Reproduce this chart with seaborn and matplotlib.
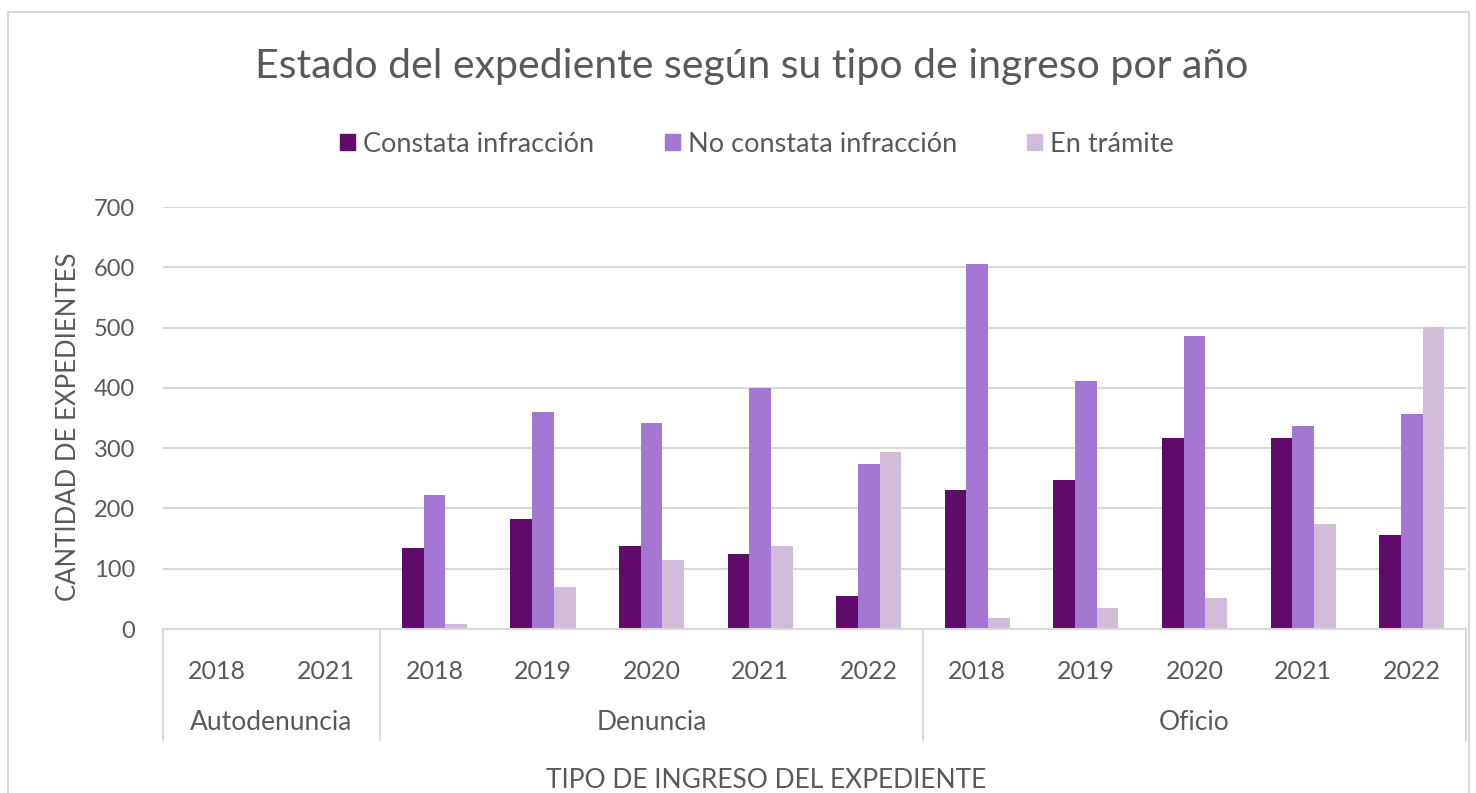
import matplotlib
matplotlib.use("Agg")
import matplotlib.pyplot as plt
import matplotlib.transforms as mtransforms
from matplotlib.patches import Rectangle
import pandas as pd
import seaborn as sns

# datos
tipos = ["Autodenuncia", "Autodenuncia",
         "Denuncia", "Denuncia", "Denuncia", "Denuncia", "Denuncia",
         "Oficio", "Oficio", "Oficio", "Oficio", "Oficio"]
anios = ["2018", "2021",
         "2018", "2019", "2020", "2021", "2022",
         "2018", "2019", "2020", "2021", "2022"]
constata = [0, 0, 134, 183, 138, 125, 55, 230, 247, 317, 317, 156]
no_constata = [0, 0, 222, 360, 341, 400, 273, 606, 412, 486, 337, 356]
en_tramite = [0, 0, 8, 70, 114, 138, 293, 19, 35, 51, 175, 501]

series = ["Constata infracción", "No constata infracción", "En trámite"]
colores = ["#600A6B", "#A377D2", "#D1BCD9"]
grupos = ["Autodenuncia", "Denuncia", "Oficio"]

df = pd.DataFrame({
    "cat": [f"{t}|{a}" for t, a in zip(tipos, anios)],
    series[0]: constata,
    series[1]: no_constata,
    series[2]: en_tramite,
})
largo = df.melt(id_vars="cat", var_name="estado", value_name="n")

sns.set_style("white")
plt.rcParams["font.family"] = ["Lato", "DejaVu Sans"]
gris = "#595959"

fig = plt.figure(figsize=(14.76, 7.93), dpi=100)
ax = fig.add_axes([0.1104, 0.2068, 0.8828, 0.532])

sns.barplot(data=largo, x="cat", y="n", hue="estado", hue_order=series,
            palette=colores, width=0.6, gap=0, saturation=1,
            linewidth=0, ax=ax, legend=False)

ax.set_ylim(0, 700)
ax.set_xlim(-0.5, len(tipos) - 0.5)
ax.set_yticks(range(0, 701, 100))
ax.yaxis.grid(True, color="#D9D9D9", lw=1.5)
ax.set_axisbelow(True)
for s in ["top", "right", "left"]:
    ax.spines[s].set_visible(False)
ax.spines["bottom"].set_color("#D9D9D9")
ax.spines["bottom"].set_linewidth(1.5)

ax.set_xticks(range(len(anios)))
ax.set_xticklabels(anios)
ax.tick_params(axis="both", length=0, labelcolor=gris)
ax.tick_params(axis="x", pad=22, labelsize=18)
ax.tick_params(axis="y", pad=20, labelsize=17)
ax.set_xlabel("")
ax.set_ylabel("CANTIDAD DE EXPEDIENTES", fontsize=18.5, color=gris)
ax.yaxis.set_label_coords(-0.063, 0.48)

# separadores y nombres de grupo
trans = mtransforms.blended_transform_factory(ax.transData, ax.transAxes)
bordes = [-0.5]
pos = 0
for g in grupos:
    k = tipos.count(g)
    ax.text(pos + (k - 1) / 2, -0.222, g, transform=trans, ha="center",
            va="center", fontsize=19, color=gris)
    pos += k
    bordes.append(pos - 0.5)
for b in bordes:
    ax.plot([b, b], [0, -0.263], transform=trans, color="#D9D9D9",
            lw=1.5, clip_on=False)

fig.text(0.519, 0.016, "TIPO DE INGRESO DEL EXPEDIENTE", ha="center",
         va="center", fontsize=19, color=gris)

fig.suptitle("Estado del expediente según su tipo de ingreso por año",
             x=0.509, y=0.94, fontsize=29.5, color=gris)

handles = [Rectangle((0, 0), 1, 1, color=c) for c in colores]
fig.legend(handles, series, loc="center", bbox_to_anchor=(0.513, 0.818),
           ncol=3, frameon=False, fontsize=19.5, labelcolor=gris,
           handlelength=0.55, handleheight=0.55, handletextpad=0.3,
           columnspacing=2.6)

# marco del grafico
fig.patches.append(Rectangle((8 / 1476, -0.01), 1461 / 1476, 0.995,
                             transform=fig.transFigure, fill=False,
                             edgecolor="#D9D9D9", lw=1.5))

fig.savefig("out.png", dpi=100)
